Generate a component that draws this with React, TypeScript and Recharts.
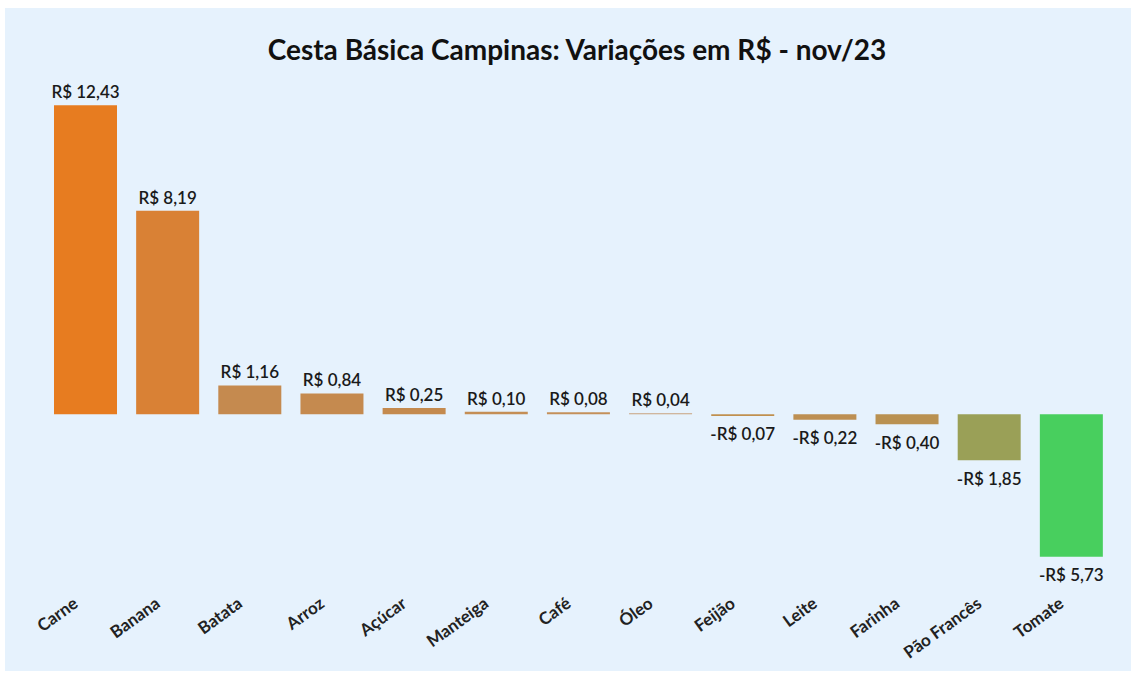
import { BarChart, Bar, XAxis, YAxis, Cell, LabelList } from "recharts";

const categories = [
  "Carne",
  "Banana",
  "Batata",
  "Arroz",
  "Açúcar",
  "Manteiga",
  "Café",
  "Óleo",
  "Feijão",
  "Leite",
  "Farinha",
  "Pão Francês",
  "Tomate",
];
const variations = [12.43, 8.19, 1.16, 0.84, 0.25, 0.1, 0.08, 0.04, -0.07, -0.22, -0.4, -1.85, -5.73];
const barColors = [
  "#E77C20",
  "#D98135",
  "#C58A4F",
  "#C58A4F",
  "#C48A4E",
  "#C48E55",
  "#C4905A",
  "#C8A27E",
  "#C0904F",
  "#BD8F52",
  "#B99151",
  "#9AA057",
  "#48CF5E",
];

const data = categories.map((name, i) => ({ name, value: variations[i] }));

const FONT = "Lato, 'Open Sans', sans-serif";

const fmt = (v: number) =>
  (v < 0 ? "-" : "") + "R$ " + Math.abs(v).toFixed(2).replace(".", ",");

function ValueLabel(props: any) {
  const { x, y, width, height, value } = props;
  const cx = x + width / 2;
  const neg = value < 0;
  // negative bars: y is the zero line, height grows downwards
  const top = Math.min(y, y + height);
  const bottom = Math.max(y, y + height);
  const ty = neg ? bottom + 20 : top - 7;
  return (
    <text
      x={cx}
      y={ty}
      textAnchor="middle"
      fontSize={17}
      fontFamily={FONT}
      fontWeight={600}
      fill="#1a1a1a"
      dominantBaseline={neg ? "middle" : "auto"}
    >
      {fmt(value)}
    </text>
  );
}

function CategoryTick(props: any) {
  const { x, y, payload } = props;
  return (
    <g transform={`translate(${x - 6},${y + 22})`}>
      <text
        textAnchor="end"
        transform="rotate(-36)"
        fontSize={17}
        fontWeight={700}
        fontFamily={FONT}
        fill="#222"
      >
        {payload.value}
      </text>
    </g>
  );
}

export default function App() {
  return (
    <div
      style={{
        position: "absolute",
        left: 5,
        top: 8,
        width: 1126,
        height: 663,
        background: "#E6F2FD",
        fontFamily: FONT,
      }}
    >
      <div
        style={{
          position: "absolute",
          left: 0,
          top: 24,
          width: 1144,
          textAlign: "center",
          fontSize: 28,
          fontWeight: 700,
          color: "#111",
        }}
      >
        Cesta Básica Campinas: Variações em R$ - nov/23
      </div>
      <BarChart
        width={1126}
        height={663}
        data={data}
        margin={{ top: 83, right: 19, bottom: 35, left: 39 }}
      >
        <XAxis
          dataKey="name"
          axisLine={false}
          tickLine={false}
          interval={0}
          height={60}
          tick={<CategoryTick />}
        />
        <YAxis hide domain={[-6.5, 13]} />
        <Bar dataKey="value" barSize={63} isAnimationActive={false}>
          {data.map((d, i) => (
            <Cell key={d.name} fill={barColors[i]} />
          ))}
          <LabelList dataKey="value" content={<ValueLabel />} />
        </Bar>
      </BarChart>
    </div>
  );
}
